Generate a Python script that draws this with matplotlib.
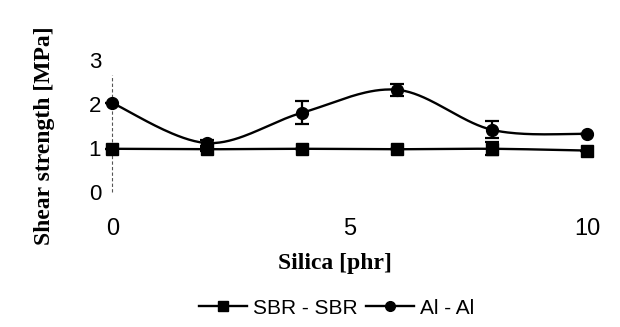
import numpy as np
import matplotlib
matplotlib.use("Agg")
import matplotlib.pyplot as plt

silica = [0, 2, 4, 6, 8, 10]
sbr_sbr = [0.98, 0.97, 0.98, 0.97, 0.98, 0.94]
sbr_err = [0.0, 0.03, 0.0, 0.0, 0.15, 0.0]
al_al = [2.02, 1.11, 1.80, 2.32, 1.41, 1.32]
al_err = [0.0, 0.07, 0.26, 0.13, 0.19, 0.0]
x_ticks = [0, 5, 10]
y_ticks = [0, 1, 2, 3]
series_names = ["SBR - SBR", "Al - Al"]


def smooth(xs, ys, n=40):
    P = np.column_stack([xs, ys]).astype(float)
    ext = np.vstack([P[0], P, P[-1]])
    out = []
    t = np.linspace(0, 1, n)[:, None]
    for i in range(len(P) - 1):
        p0 = ext[i + 1]
        p3 = ext[i + 2]
        c1 = p0 + (ext[i + 2] - ext[i]) / 6.0
        c2 = p3 - (ext[i + 3] - ext[i + 1]) / 6.0
        seg = ((1 - t) ** 3) * p0 + 3 * ((1 - t) ** 2) * t * c1 + 3 * (1 - t) * t ** 2 * c2 + t ** 3 * p3
        out.append(seg if i == 0 else seg[1:])
    s = np.vstack(out)
    return s[:, 0], s[:, 1]


fig = plt.figure(figsize=(6.2, 3.27), dpi=100)
ax = fig.add_axes([0.181, 0.413, 0.766, 0.404])
ax.set_xlim(0, 10)
ax.set_ylim(0, 3)

for s in ax.spines.values():
    s.set_visible(False)

ax.plot([0, 0], [0, 2.65], color="#555555", lw=0.8, ls=(0, (3, 2)), clip_on=False, zorder=1)

lw = 1.7
for ys, err, mk, ms, name in [(sbr_sbr, sbr_err, "s", 8.5, series_names[0]),
                              (al_al, al_err, "o", 8.5, series_names[1])]:
    sx, sy = smooth(silica, ys)
    ax.plot(sx, sy, color="black", lw=lw, clip_on=False, zorder=2)
    ax.errorbar(silica, ys, yerr=err, fmt="none", ecolor="black", elinewidth=1.6,
                capsize=5, capthick=1.6, clip_on=False, zorder=3)
    ax.plot(silica, ys, ls="none", marker=mk, ms=ms, color="black", clip_on=False, zorder=4)

ax.set_xticks(x_ticks)
ax.set_yticks(y_ticks)
ax.tick_params(length=0)
ax.tick_params(axis="x", pad=19, labelsize=17)
ax.tick_params(axis="y", pad=8, labelsize=16)
for lab in ax.get_xticklabels() + ax.get_yticklabels():
    lab.set_family("Liberation Sans")

fig.text(0.540, 0.195, "Silica [phr]", fontsize=17, fontweight="bold", family="Liberation Serif",
         ha="center", va="center")
fig.text(0.071, 0.585, "Shear strength [MPa]", fontsize=17, fontweight="bold", family="Liberation Serif",
         ha="center", va="center", rotation=90)

handles = [plt.Line2D([], [], color="black", lw=lw, marker="s", ms=7),
           plt.Line2D([], [], color="black", lw=lw, marker="o", ms=7)]
fig.legend(handles, series_names, loc="center", bbox_to_anchor=(0.543, 0.058), ncol=2, frameon=False,
           prop={"family": "Liberation Sans", "size": 15}, handlelength=2.3, handletextpad=0.3,
           columnspacing=0.4)

fig.savefig("out.png", dpi=100)
